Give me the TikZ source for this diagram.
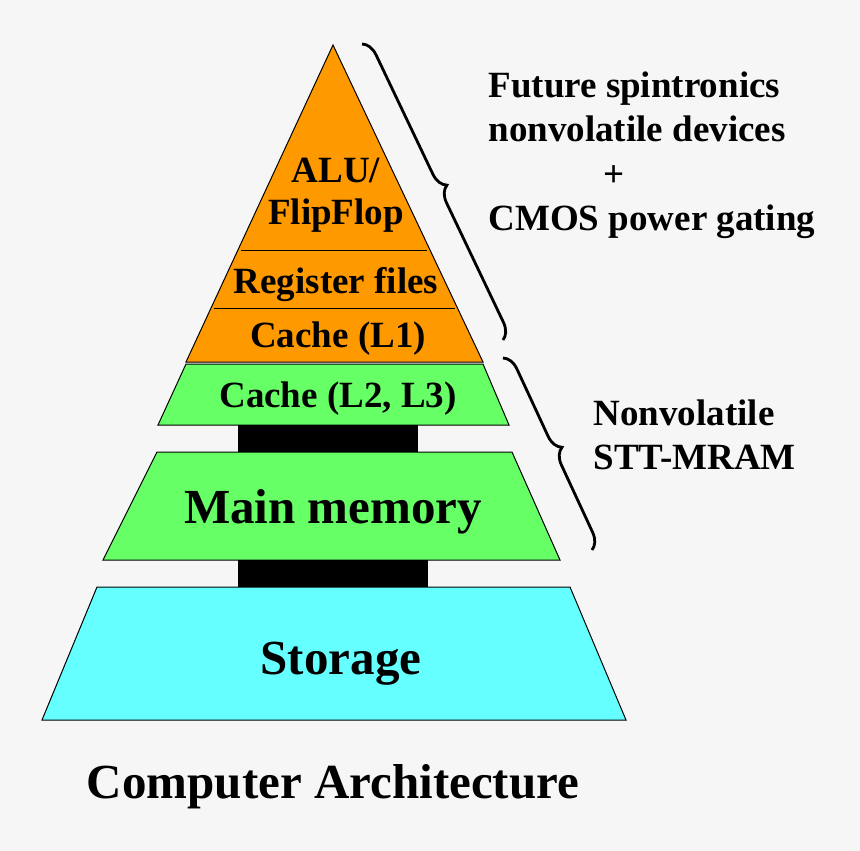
\documentclass[tikz,border=0pt]{standalone}
\usepackage{fontspec}
\setmainfont{Liberation Serif}
\usetikzlibrary{decorations.pathreplacing}
\definecolor{bg}{HTML}{F6F6F6}
\definecolor{orng}{HTML}{FF9900}
\definecolor{grn}{HTML}{66FF66}
\definecolor{cyn}{HTML}{66FFFF}
\begin{document}
\begin{tikzpicture}[x=1pt,y=-1pt,
  lvl/.style={draw=black,line width=1pt},
  lbl/.style={font=\bfseries\fontsize{37}{42}\selectfont,align=center},
  big/.style={font=\bfseries\fontsize{49}{54}\selectfont},
  side/.style={font=\bfseries\fontsize{37}{44.5}\selectfont,align=left,anchor=north west},
  br/.style={decorate,decoration={brace,amplitude=16pt},line width=2.8pt}]
\fill[bg] (0,0) rectangle (860,851);
\useasboundingbox (0,0) rectangle (860,851);
% orange triangle
\filldraw[lvl,fill=orng] (333,45) -- (483,362) -- (186,362) -- cycle;
\draw[line width=1pt] (241,250) -- (427,250);
\draw[line width=1pt] (214,308) -- (455,308);
\node[lbl] (alu) at (336,195) {ALU/\\FlipFlop};
\node[lbl] (reg) at (336,285) {Register files};
\node[lbl] (l1) at (338,339) {Cache (L1)};
% L2
\filldraw[lvl,fill=grn] (186,364) -- (483,364) -- (509,425) -- (158,425) -- cycle;
\node[lbl] (l2) at (338,399) {Cache (L2, L3)};
\fill[black] (238,425) rectangle (418,452);
% main memory
\filldraw[lvl,fill=grn] (157,452) -- (512,452) -- (560,560) -- (103,560) -- cycle;
\node[big] (mm) at (333,512) {Main memory};
\fill[black] (238,560) rectangle (428,587);
% storage
\filldraw[lvl,fill=cyn] (97,587) -- (570,587) -- (626,720) -- (42,720) -- cycle;
\node[big] (st) at (341,664) {Storage};
\node[big] (ca) at (333,787) {Computer Architecture};
% braces
\coordinate (b1a) at (362,44);
\coordinate (b1b) at (503,340);
\draw[br] (b1a) -- (b1b);
\coordinate (b2a) at (503,358);
\coordinate (b2b) at (592,550);
\draw[br] (b2a) -- (b2b);
\node[side] (fut) at (485,68) {Future spintronics\\nonvolatile devices\\\hspace*{115pt}+\\CMOS power gating};
\node[side] (nv) at (590,396) {Nonvolatile\\STT-MRAM};
\end{tikzpicture}
\end{document}
